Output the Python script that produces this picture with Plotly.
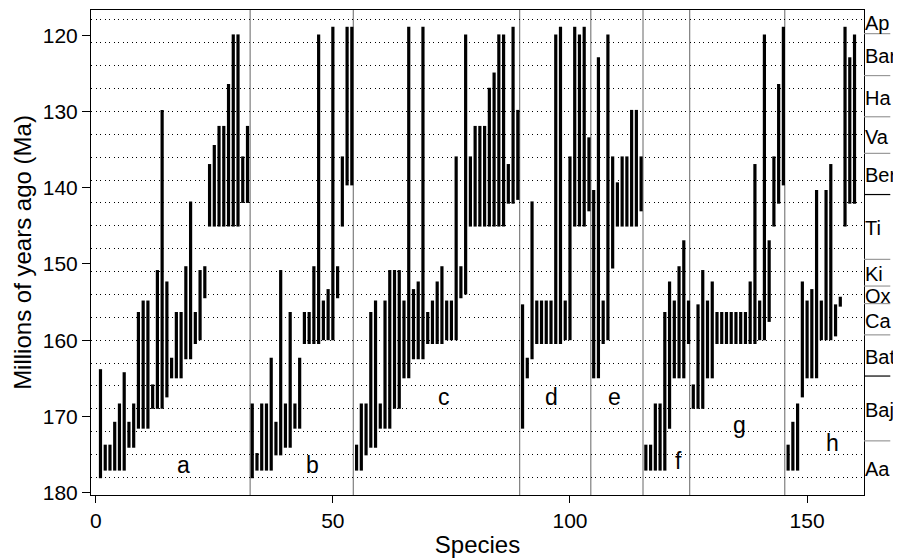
import plotly.graph_objects as go

# first appearance (older, Ma) and last appearance (younger, Ma) per species, by group
a_first = [178.1, 177.1, 177.1, 177.1, 177.1, 177.1, 174.1, 174.1, 171.6, 171.6, 171.6, 169.0,
           169.0, 169.0, 167.5, 165.0, 165.0, 165.0, 162.5, 162.5, 160.5, 160.0, 154.5, 145.1,
           145.1, 145.1, 145.1, 145.1, 145.1, 145.1, 142.0, 142.0]
a_last = [163.8, 173.7, 173.7, 170.7, 168.3, 164.2, 170.7, 168.3, 156.3, 154.8, 154.8, 165.8,
          150.8, 129.8, 152.3, 162.3, 156.3, 156.3, 150.3, 141.8, 156.3, 150.8, 150.3, 136.9,
          134.4, 131.9, 131.9, 126.4, 119.9, 119.9, 135.9, 131.9]

b_first = [178.1, 177.1, 177.1, 177.1, 177.1, 175.1, 175.1, 174.1, 174.1, 171.6, 171.6, 160.5,
           160.5, 160.5, 160.5, 160.0, 160.0, 160.0, 154.5, 145.1, 139.7, 139.7]
b_last = [168.3, 174.8, 168.3, 168.3, 162.3, 170.7, 150.8, 168.3, 156.3, 168.3, 162.3, 156.3,
          156.3, 150.3, 119.9, 154.8, 153.3, 118.9, 150.3, 135.9, 118.9, 118.9]

c_first = [177.1, 177.1, 175.1, 174.1, 174.1, 171.6, 171.6, 171.6, 169.0, 169.0, 165.0, 165.0,
           162.5, 162.5, 162.5, 160.5, 160.5, 160.5, 160.5, 160.0, 160.0, 160.0, 154.5, 154.0,
           145.1, 145.1, 145.1, 145.1, 145.1, 145.1, 145.1, 145.1, 142.1, 142.1, 141.6]
c_last = [173.7, 168.3, 168.3, 156.3, 154.8, 168.3, 154.8, 150.8, 150.8, 150.8, 154.8, 118.9,
          153.3, 152.3, 118.9, 156.3, 154.8, 152.3, 150.3, 154.8, 154.8, 135.9, 150.3, 119.9,
          135.9, 131.9, 131.9, 131.9, 126.9, 124.9, 119.9, 119.9, 136.9, 118.9, 129.8]

d_first = [171.6, 165.0, 162.5, 160.5, 160.5, 160.5, 160.5, 160.5, 160.5, 160.0, 160.0, 145.1,
           145.1, 145.1, 143.1]
d_last = [155.3, 162.3, 141.8, 154.8, 154.8, 154.8, 154.8, 119.9, 118.9, 154.8, 135.9, 118.9,
          119.9, 118.9, 133.4]

e_first = [165.0, 165.0, 160.5, 160.0, 150.6, 145.1, 145.1, 145.1, 145.1, 145.1, 143.1]
e_last = [140.3, 122.9, 154.8, 119.9, 135.9, 139.3, 135.9, 135.9, 129.8, 129.8, 135.9]

f_first = [177.1, 177.1, 177.1, 177.1, 177.1, 171.6, 165.0, 165.0, 165.0, 160.5]
f_last = [173.7, 173.7, 168.3, 168.3, 156.3, 152.3, 154.8, 150.3, 146.9, 154.8]

g_first = [169.0, 169.0, 169.0, 165.0, 165.0, 160.5, 160.5, 160.5, 160.5, 160.5, 160.5, 160.5,
           160.5, 160.5, 160.0, 160.0, 157.6, 145.1, 142.1, 139.7]
g_last = [165.8, 155.3, 150.8, 154.8, 152.3, 156.3, 156.3, 156.3, 156.3, 156.3, 156.3, 156.3,
          152.3, 136.9, 154.8, 119.9, 146.9, 135.9, 126.4, 118.9]

h_first = [177.1, 177.1, 177.1, 167.5, 165.0, 165.0, 165.0, 160.0, 160.0, 160.0, 159.5, 155.6,
           145.1, 142.1, 142.1]
h_last = [173.7, 170.7, 168.3, 152.3, 154.8, 153.3, 140.3, 154.8, 140.3, 136.9, 155.3, 154.3,
          118.9, 122.9, 119.9]

group_names = ["a", "b", "c", "d", "e", "f", "g", "h"]
group_label_x = [18.5, 45.8, 73.5, 96.0, 109.3, 122.9, 135.8, 155.3]
group_label_y = [176.4, 176.4, 167.5, 167.4, 167.4, 175.9, 171.1, 173.5]
group_breaks = [32.55, 54.3, 89.4, 104.4, 115.4, 125.25, 145.3]

# stage boundaries (Ma) on right margin
stage_names = ["Ap", "Bar", "Ha", "Va", "Ber", "Ti", "Ki", "Ox", "Ca", "Bat", "Baj", "Aa"]
stage_bounds = [119.8, 125.3, 130.7, 135.5, 140.9, 149.4, 152.9, 155.2, 159.3, 164.7, 173.2]
stage_major = [140.9, 164.7]

y_min, y_max = 116.7, 180.3

first_all = a_first + b_first + c_first + d_first + e_first + f_first + g_first + h_first
last_all = a_last + b_last + c_last + d_last + e_last + f_last + g_last + h_last

xs, ys = [], []
for i, (fo, lo) in enumerate(zip(first_all, last_all)):
    xs += [i + 1, i + 1, None]
    ys += [fo, lo, None]

fig = go.Figure()
fig.add_trace(go.Scatter(x=xs, y=ys, mode="lines", line=dict(color="black", width=3.2),
                         hoverinfo="skip", showlegend=False))

for b in group_breaks:
    fig.add_shape(type="line", x0=b, x1=b, y0=0, y1=1, xref="x", yref="paper",
                  line=dict(color="#666666", width=1), layer="below")

for s in stage_bounds:
    fig.add_shape(type="line", x0=1.0, x1=1.034, y0=s, y1=s, xref="paper", yref="y",
                  line=dict(color="black" if s in stage_major else "#999999", width=1.2))

edges = [y_min] + stage_bounds + [y_max]
for k, name in enumerate(stage_names):
    fig.add_annotation(x=1.0, y=(edges[k] + edges[k + 1]) / 2 + 0.2, xref="paper", yref="y",
                       text=name, showarrow=False, xanchor="left", xshift=0, borderpad=0,
                       font=dict(size=20, color="black"))

for name, gx, gy in zip(group_names, group_label_x, group_label_y):
    fig.add_annotation(x=gx, y=gy, text=name, showarrow=False,
                       font=dict(size=23, color="black"))

# page body has an 8px margin, so the figure is shrunk by that much
fig.update_layout(
    width=893, height=552,
    margin=dict(l=83, r=37, t=2, b=65),
    paper_bgcolor="white", plot_bgcolor="white",
    font=dict(family="Liberation Sans, Arial, sans-serif", color="black", size=21),
)
fig.update_xaxes(range=[-1, 162], tickvals=[0, 50, 100, 150], ticks="outside", ticklen=7,
                 tickcolor="black", showgrid=False, zeroline=False, showline=True,
                 linecolor="black", linewidth=1, mirror=True, automargin=False,
                 title=dict(text="Species", font=dict(size=24), standoff=4))
fig.update_yaxes(range=[y_max, y_min], tickvals=[120, 130, 140, 150, 160, 170, 180],
                 ticks="outside", ticklen=8, tickcolor="black", showgrid=False,
                 zeroline=False, showline=True, linecolor="black", linewidth=1, mirror=True,
                 automargin=False,
                 minor=dict(tick0=118, dtick=3, ticks="", showgrid=True, gridcolor="black",
                            gridwidth=1, griddash="1px,3.5px"),
                 title=dict(text="Millions of years ago (Ma)", font=dict(size=24), standoff=4))

fig.write_html("out.html")
